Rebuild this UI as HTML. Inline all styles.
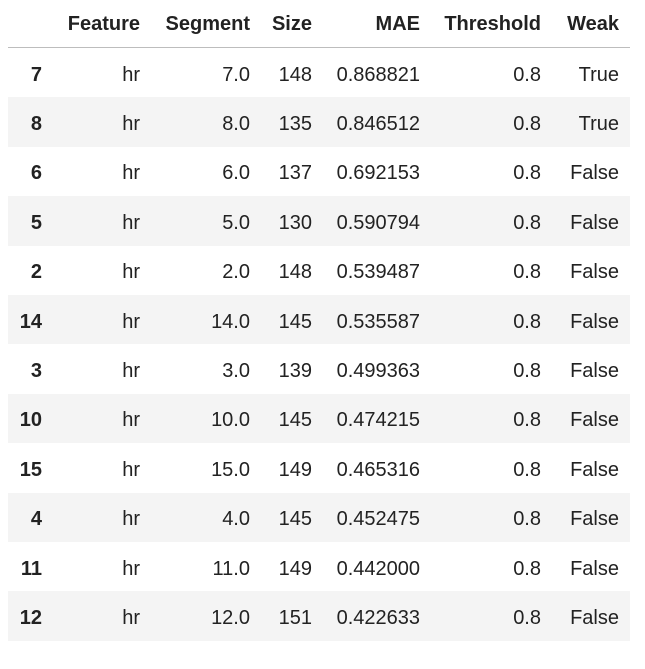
<!DOCTYPE html>
<html><head><meta charset="utf-8"><style>
body{margin:0;width:645px;height:669px;background:#fff;font-family:"Liberation Sans",sans-serif;color:#222;position:relative;overflow:hidden}
.c{position:absolute;font-size:20px;line-height:20px;text-align:right;white-space:nowrap}
.h{font-weight:bold}
.row{position:absolute;left:8px;width:622px;height:49.4px}
</style></head><body>
<div id="tbl"></div>
<script>
const idx=[7,8,6,5,2,14,3,10,15,4,11,12];
const feature=["hr","hr","hr","hr","hr","hr","hr","hr","hr","hr","hr","hr"];
const segment=["7.0","8.0","6.0","5.0","2.0","14.0","3.0","10.0","15.0","4.0","11.0","12.0"];
const size=[148,135,137,130,148,145,139,145,149,145,149,151];
const mae=["0.868821","0.846512","0.692153","0.590794","0.539487","0.535587","0.499363","0.474215","0.465316","0.452475","0.442000","0.422633"];
const thr=["0.8","0.8","0.8","0.8","0.8","0.8","0.8","0.8","0.8","0.8","0.8","0.8"];
const weak=["True","True","False","False","False","False","False","False","False","False","False","False"];
const headers=["Feature","Segment","Size","MAE","Threshold","Weak"];
const rights=[42,140,250,312,420,541,619];
const t=document.getElementById('tbl');
function cell(txt,right,cy,bold,name){
  const d=document.createElement('div');
  d.className='c'+(bold?' h':'');
  d.textContent=txt;
  d.style.right=(645-right)+'px';
  d.style.top=(cy-9)+'px';
  
  
  t.appendChild(d);
}
headers.forEach((h,i)=>cell(h,rights[i+1],23,true,'header-'+h.toLowerCase()));
const line=document.createElement('div');
line.style.cssText='position:absolute;left:8px;width:622px;top:47px;height:1px;background:#bdbdbd';


t.appendChild(line);
idx.forEach((v,i)=>{
  const top=48+49.4*i;
  if(i%2===1){
    const r=document.createElement('div');
    r.className='row';r.style.top=top+'px';r.style.background='#f4f4f4';
    
    
    t.appendChild(r);
  }
  const cy=top+25.5;
  cell(String(v),rights[0],cy,true,'row-index');
  cell(feature[i],rights[1],cy,false,'feature-cell');
  cell(segment[i],rights[2],cy,false,'segment-cell');
  cell(String(size[i]),rights[3],cy,false,'size-cell');
  cell(mae[i],rights[4],cy,false,'mae-cell');
  cell(thr[i],rights[5],cy,false,'threshold-cell');
  cell(weak[i],rights[6],cy,false,'weak-cell');
});
</script>
</body></html>
